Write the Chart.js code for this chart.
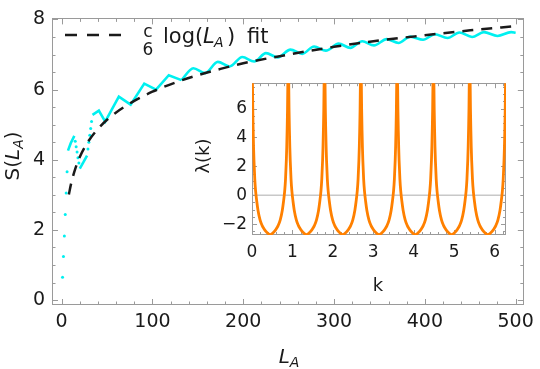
<!DOCTYPE html>
<html>
<head>
<meta charset="utf-8">
<script src="https://cdn.jsdelivr.net/npm/chart.js@4.4.0/dist/chart.umd.min.js"></script>
<style>
    html, body { margin: 0; padding: 0; background: #fff; }
    #wrap { position: relative; width: 540px; height: 369px; }
    #mainChart { position: absolute; left: 0; top: 0; }
    #insetChart { position: absolute; left: 180px; top: 68px; }
</style>
</head>
<body>
<div id="wrap">
    <canvas id="mainChart" width="540" height="369"></canvas>
    <canvas id="insetChart" width="335" height="235"></canvas>
</div>
<script>
// ---- main plot data: S(L_A) ----
// single points where the entropy jumps (they show up as separate dots)
const dotL = [1, 2, 3, 4, 5, 6, 15, 16, 17, 18, 19, 29, 30, 31, 32, 33];
const dotS = [0.65, 1.24, 1.83, 2.44, 3.05, 3.66, 4.53, 4.37, 4.22, 4.06, 3.91, 4.31, 4.50, 4.70, 4.89, 5.09];

// dense runs that merge into a solid line
const runAL = [7, 10, 14];
const runAS = [4.26, 4.47, 4.68];
const runBL = [20, 24, 28];
const runBS = [3.75, 3.93, 4.12];
const sawL = [34, 41, 48, 63, 76, 91, 104, 118, 132];
const sawS = [5.28, 5.40, 5.09, 5.80, 5.57, 6.17, 6.00, 6.41, 6.27];
const waveL = [132, 145, 158, 172, 185, 199, 212, 225, 238, 252, 265, 278, 291, 305, 318, 331, 344, 358, 371, 384, 398, 411, 425, 438, 452, 465, 480, 495, 500];
const waveS = [6.27, 6.61, 6.47, 6.79, 6.66, 6.93, 6.80, 7.04, 6.92, 7.14, 7.02, 7.23, 7.11, 7.31, 7.19, 7.38, 7.26, 7.44, 7.33, 7.51, 7.42, 7.58, 7.47, 7.63, 7.50, 7.64, 7.53, 7.64, 7.62];

// c/6 log(L_A) fit
const fitL = [8, 10, 15, 20, 30, 40, 50, 60, 80, 100, 125, 150, 175, 200, 250, 300, 350, 400, 450, 500];
const fitS = [3.01, 3.27, 3.74, 4.08, 4.55, 4.88, 5.14, 5.35, 5.68, 5.94, 6.20, 6.41, 6.59, 6.75, 7.00, 7.22, 7.40, 7.55, 7.69, 7.81];

const xTicks = [0, 100, 200, 300, 400, 500];
const yTicks = [0, 2, 4, 6, 8];

// ---- inset data: lambda(k) ----
// the seven wells look identical: centre of each well and one half-profile
const kCenters = [0.449, 1.346, 2.244, 3.142, 4.039, 4.937, 5.834];
const wellD = [0, 0.05, 0.10, 0.15, 0.20, 0.25, 0.30, 0.33, 0.36, 0.38, 0.40, 0.41, 0.42, 0.43, 0.44];
const wellLam = [-2.72, -2.66, -2.52, -2.33, -2.08, -1.70, -1.05, -0.45, 0.30, 1.10, 2.40, 3.30, 4.50, 6.00, 8.50];

const kTicks = [0, 1, 2, 3, 4, 5, 6];
const lamTicks = [-2, 0, 2, 4, 6];

const FONT = "'DejaVu Sans', sans-serif";
const FRAME = '#9a9a9a';
const CYAN = '#00f0f0';
const ORANGE = '#ff8000';
const INK = '#1a1a1a';

function pts(xs, ys) {
    return xs.map((x, i) => ({ x: x, y: ys[i] }));
}

function fmt(v) {
    return v < 0 ? '\u2212' + Math.abs(v) : String(v);
}

function fontOf(p) {
    return (p.italic ? 'italic ' : '') + p.size + 'px ' + FONT;
}

// draw a row of text pieces (for subscripts), centred on x if asked
function textRun(ctx, parts, x, y, center) {
    const widths = parts.map(p => { ctx.font = fontOf(p); return ctx.measureText(p.t).width; });
    const total = widths.reduce((a, b) => a + b, 0);
    let cx = center ? x - total / 2 : x;
    parts.forEach((p, i) => {
        ctx.font = fontOf(p);
        ctx.fillText(p.t, cx + (p.dx || 0), y + (p.dy || 0));
        cx += widths[i] + (p.dx || 0);
    });
}

function framePlugin(cfg) {
    return {
        id: 'frame',
        beforeDatasetsDraw(chart) {
            const { ctx, chartArea: a, scales } = chart;
            const xs = scales.x, ys = scales.y;
            ctx.save();
            ctx.fillStyle = '#fff';
            ctx.fillRect(a.left, a.top, a.right - a.left, a.bottom - a.top);
            if (cfg.zeroLine) {
                const py = ys.getPixelForValue(0);
                ctx.strokeStyle = '#c8c8c8';
                ctx.lineWidth = 1.5;
                ctx.beginPath();
                ctx.moveTo(a.left, py);
                ctx.lineTo(a.right, py);
                ctx.stroke();
            }
            ctx.strokeStyle = FRAME;
            ctx.lineWidth = 1;
            ctx.strokeRect(Math.round(a.left) + 0.5, Math.round(a.top) + 0.5,
                Math.round(a.right - a.left) - 1, Math.round(a.bottom - a.top) - 1);
            ctx.beginPath();
            for (let v = cfg.xFrom; v <= xs.max + 1e-9; v += cfg.xStep) {
                const px = Math.round(xs.getPixelForValue(v)) + 0.5;
                const len = cfg.xMajor.some(m => Math.abs(m - v) < 1e-6) ? cfg.major : cfg.minor;
                ctx.moveTo(px, a.bottom); ctx.lineTo(px, a.bottom - len);
                ctx.moveTo(px, a.top); ctx.lineTo(px, a.top + len);
            }
            for (let v = cfg.yFrom; v <= ys.max + 1e-9; v += cfg.yStep) {
                const py = Math.round(ys.getPixelForValue(v)) + 0.5;
                const len = cfg.yMajor.some(m => Math.abs(m - v) < 1e-6) ? cfg.major : cfg.minor;
                ctx.moveTo(a.left, py); ctx.lineTo(a.left + len, py);
                ctx.moveTo(a.right, py); ctx.lineTo(a.right - len, py);
            }
            ctx.stroke();
            ctx.restore();
        }
    };
}

const mainLabels = {
    id: 'mainLabels',
    afterDraw(chart) {
        const ctx = chart.ctx;
        ctx.save();
        ctx.fillStyle = INK;
        ctx.textBaseline = 'alphabetic';
        // x title
        textRun(ctx, [
            { t: 'L', size: 20, italic: true },
            { t: 'A', size: 14, italic: true, dy: 4 }
        ], 289, 363, true);
        // y title
        ctx.save();
        ctx.translate(12, 156);
        ctx.rotate(-Math.PI / 2);
        textRun(ctx, [
            { t: 'S(', size: 20 },
            { t: 'L', size: 20, italic: true },
            { t: 'A', size: 14, italic: true, dy: 4 },
            { t: ')', size: 20 }
        ], 0, 7, true);
        ctx.restore();
        // legend
        ctx.strokeStyle = INK;
        ctx.lineWidth = 2.5;
        ctx.setLineDash([12, 10]);
        ctx.beginPath();
        ctx.moveTo(65, 35);
        ctx.lineTo(125, 35);
        ctx.stroke();
        ctx.setLineDash([]);
        ctx.textAlign = 'center';
        ctx.font = '17px ' + FONT;
        ctx.fillText('c', 148, 37);
        ctx.fillText('6', 148, 55);
        ctx.textAlign = 'left';
        ctx.font = '21px ' + FONT;
        ctx.fillText('log(', 163, 43);
        ctx.font = 'italic 21px ' + FONT;
        ctx.fillText('L', 203, 43);
        ctx.font = 'italic 14px ' + FONT;
        ctx.fillText('A', 214, 47);
        ctx.font = '21px ' + FONT;
        ctx.fillText(')', 227, 43);
        ctx.fillText('fit', 247, 43);
        ctx.restore();
    }
};

const insetLabels = {
    id: 'insetLabels',
    afterDraw(chart) {
        const ctx = chart.ctx;
        ctx.save();
        ctx.fillStyle = INK;
        ctx.textAlign = 'center';
        ctx.font = '18px ' + FONT;
        ctx.fillText('k', 378 - 180, 291 - 68);
        ctx.translate(203 - 180, 156 - 68);
        ctx.rotate(-Math.PI / 2);
        ctx.fillText('\u03bb(k)', 0, 6);
        ctx.restore();
    }
};

new Chart(document.getElementById('mainChart'), {
    type: 'scatter',
    data: {
        datasets: [
            { data: pts(fitL, fitS), showLine: true, borderColor: INK, borderWidth: 2.5, borderDash: [11, 8],
              pointRadius: 0, cubicInterpolationMode: 'monotone' },
            { data: pts(waveL, waveS), showLine: true, borderColor: CYAN, borderWidth: 2.6,
              pointRadius: 0, cubicInterpolationMode: 'monotone' },
            { data: pts(sawL, sawS), showLine: true, borderColor: CYAN, borderWidth: 2.6, pointRadius: 0 },
            { data: pts(runAL, runAS), showLine: true, borderColor: CYAN, borderWidth: 2.6, pointRadius: 0 },
            { data: pts(runBL, runBS), showLine: true, borderColor: CYAN, borderWidth: 2.6, pointRadius: 0 },
            { data: pts(dotL, dotS), showLine: false, backgroundColor: CYAN, borderWidth: 0, pointRadius: 1.5 }
        ]
    },
    options: {
        responsive: false,
        animation: false,
        devicePixelRatio: 1,
        layout: { padding: { left: 0, right: 12, top: 11, bottom: 0 } },
        plugins: { legend: { display: false }, tooltip: { enabled: false } },
        scales: {
            x: {
                type: 'linear', min: -10.6, max: 509,
                grid: { display: false, drawTicks: false },
                border: { display: false },
                afterBuildTicks: s => { s.ticks = xTicks.map(v => ({ value: v })); },
                afterFit: s => { s.height = 64; },
                ticks: { font: { family: FONT, size: 19 }, color: INK, padding: 6, maxRotation: 0, autoSkip: false }
            },
            y: {
                type: 'linear', min: -0.14, max: 8.03,
                grid: { display: false, drawTicks: false },
                border: { display: false },
                afterBuildTicks: s => { s.ticks = yTicks.map(v => ({ value: v })); },
                afterFit: s => { s.width = 52; },
                ticks: { font: { family: FONT, size: 19 }, color: INK, padding: 7, autoSkip: false }
            }
        }
    },
    plugins: [framePlugin({ xFrom: 0, xStep: 20, xMajor: xTicks, yFrom: 0, yStep: 0.5, yMajor: yTicks, major: 6, minor: 3.5 }), mainLabels]
});

const wellSets = kCenters.map(c => {
    const left = wellD.slice().reverse().map((d, i) => ({ x: c - d, y: wellLam[wellLam.length - 1 - i] }));
    const right = wellD.slice(1).map((d, i) => ({ x: c + d, y: wellLam[i + 1] }));
    return {
        data: left.concat(right), showLine: true, borderColor: ORANGE, borderWidth: 2.8,
        pointRadius: 0, cubicInterpolationMode: 'monotone'
    };
});

new Chart(document.getElementById('insetChart'), {
    type: 'scatter',
    data: { datasets: wellSets },
    options: {
        responsive: false,
        animation: false,
        devicePixelRatio: 1,
        layout: { padding: { left: 0, right: 9, top: 10, bottom: 0 } },
        plugins: { legend: { display: false }, tooltip: { enabled: false } },
        scales: {
            x: {
                type: 'linear', min: 0, max: 6.2832,
                grid: { display: false, drawTicks: false },
                border: { display: false },
                afterBuildTicks: s => { s.ticks = kTicks.map(v => ({ value: v })); },
                afterFit: s => { s.height = 68; },
                ticks: { font: { family: FONT, size: 17 }, color: INK, padding: 7, maxRotation: 0, autoSkip: false }
            },
            y: {
                type: 'linear', min: -2.75, max: 7.75,
                grid: { display: false, drawTicks: false },
                border: { display: false },
                afterBuildTicks: s => { s.ticks = lamTicks.map(v => ({ value: v })); },
                afterFit: s => { s.width = 72; },
                ticks: { font: { family: FONT, size: 17 }, color: INK, padding: 5, autoSkip: false, callback: v => fmt(v) }
            }
        }
    },
    plugins: [framePlugin({ xFrom: 0, xStep: 0.2, xMajor: kTicks, yFrom: -2.5, yStep: 0.5, yMajor: lamTicks, major: 5, minor: 3, zeroLine: true }), insetLabels]
});
</script>
</body>
</html>
